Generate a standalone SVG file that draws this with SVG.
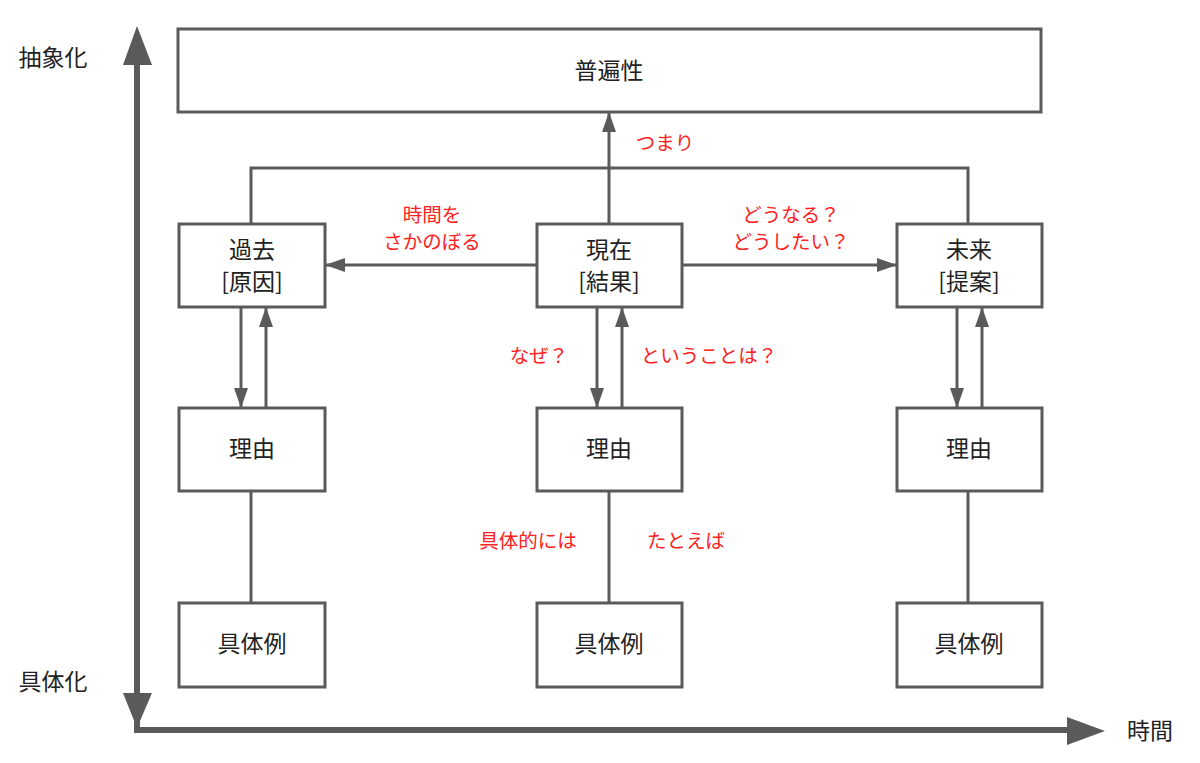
<svg xmlns="http://www.w3.org/2000/svg" width="1200" height="763" viewBox="0 0 1200 763">
<style>
.box{fill:#fff;stroke:#5a5a5a;stroke-width:3}
.t{font-family:"Noto Sans CJK JP","Liberation Sans",sans-serif;font-size:23px;fill:#222;text-anchor:middle}
.r{font-family:"Noto Sans CJK JP","Liberation Sans",sans-serif;font-size:19.5px;fill:#f22;text-anchor:middle}
.ln{stroke:#5a5a5a;stroke-width:3;fill:none}
.ax{stroke:#5a5a5a;stroke-width:6;fill:none}
</style>
<defs>
<marker id="ah" viewBox="0 0 20 14" refX="20" refY="7" markerWidth="20" markerHeight="14" markerUnits="userSpaceOnUse" orient="auto"><path d="M0,0 L20,7 L0,14 Z" fill="#5a5a5a"/></marker>
</defs>
<g id="axes">
<path class="ax" d="M137,62 V733"/>
<path class="ax" d="M134,730 H1070"/>
<path d="M137,26 L152,65 L123,65 Z" fill="#5a5a5a"/>
<path d="M137,728 L152,693 L123,693 Z" fill="#5a5a5a"/>
<path d="M1105,731 L1067,717 L1067,745 Z" fill="#5a5a5a"/>
<text class="t" x="53" y="66">抽象化</text>
<text class="t" x="53" y="690">具体化</text>
<text class="t" x="1150" y="739">時間</text>
</g>
<g id="connectors">
<path class="ln" d="M609,224 V112" marker-end="url(#ah)"/>
<path class="ln" d="M251,224 V168 H968 V224"/>
<path class="ln" d="M537,265 H325" marker-end="url(#ah)"/>
<path class="ln" d="M682,265 H897" marker-end="url(#ah)"/>
<path class="ln" d="M241,307 V408" marker-end="url(#ah)"/>
<path class="ln" d="M266,408 V307" marker-end="url(#ah)"/>
<path class="ln" d="M597,307 V408" marker-end="url(#ah)"/>
<path class="ln" d="M622,408 V307" marker-end="url(#ah)"/>
<path class="ln" d="M957,307 V408" marker-end="url(#ah)"/>
<path class="ln" d="M982,408 V307" marker-end="url(#ah)"/>
<path class="ln" d="M251,491 V603"/>
<path class="ln" d="M609,491 V603"/>
<path class="ln" d="M968,491 V603"/>
<text class="r" x="665" y="150">つまり</text>
<text class="r" x="432" y="222">時間を</text>
<text class="r" x="432" y="249">さかのぼる</text>
<text class="r" x="791" y="222">どうなる？</text>
<text class="r" x="791" y="249">どうしたい？</text>
<text class="r" x="539" y="363">なぜ？</text>
<text class="r" x="709" y="363">ということは？</text>
<text class="r" x="528" y="548">具体的には</text>
<text class="r" x="686" y="548">たとえば</text>
</g>
<g id="n-universal"><rect class="box" x="178" y="29" width="863" height="83"/><text class="t" x="609" y="79">普遍性</text></g>
<g id="n-past"><rect class="box" x="179" y="224" width="146" height="83"/><text class="t" x="252" y="258">過去</text><text class="t" x="252" y="290">[原因]</text></g>
<g id="n-present"><rect class="box" x="537" y="224" width="145" height="83"/><text class="t" x="609" y="258">現在</text><text class="t" x="609" y="290">[結果]</text></g>
<g id="n-future"><rect class="box" x="897" y="224" width="145" height="83"/><text class="t" x="969" y="258">未来</text><text class="t" x="969" y="290">[提案]</text></g>
<g id="n-reason1"><rect class="box" x="179" y="408" width="146" height="83"/><text class="t" x="252" y="457">理由</text></g>
<g id="n-reason2"><rect class="box" x="537" y="408" width="145" height="83"/><text class="t" x="609" y="457">理由</text></g>
<g id="n-reason3"><rect class="box" x="897" y="408" width="145" height="83"/><text class="t" x="969" y="457">理由</text></g>
<g id="n-ex1"><rect class="box" x="179" y="603" width="146" height="84"/><text class="t" x="252" y="652">具体例</text></g>
<g id="n-ex2"><rect class="box" x="537" y="603" width="145" height="84"/><text class="t" x="609" y="652">具体例</text></g>
<g id="n-ex3"><rect class="box" x="897" y="603" width="145" height="84"/><text class="t" x="969" y="652">具体例</text></g>
</svg>
